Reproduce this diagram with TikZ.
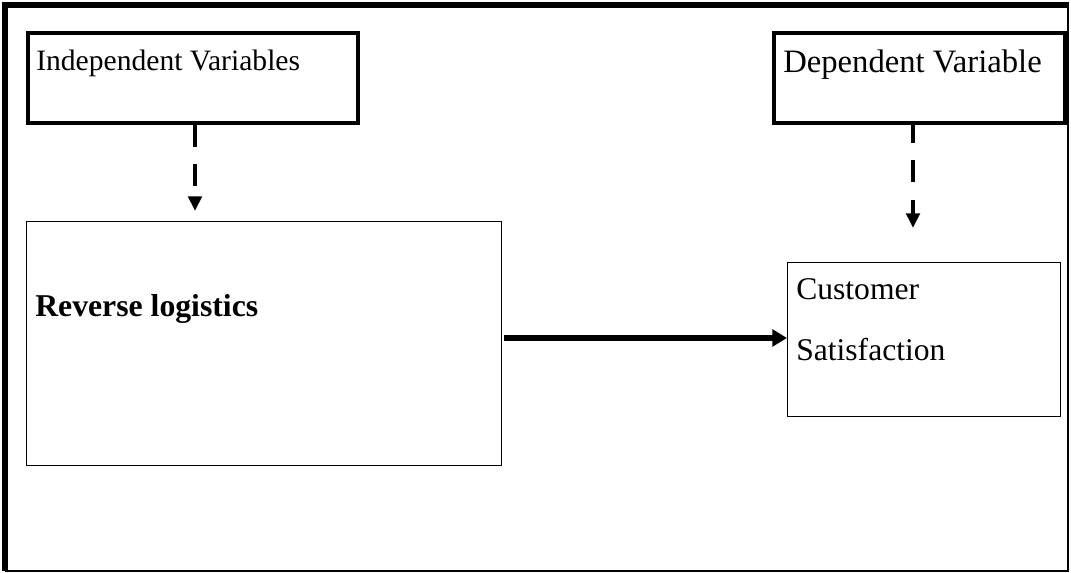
\documentclass[tikz,border=0pt]{standalone}
\usepackage{fontspec}
\setmainfont{Liberation Serif}
\usetikzlibrary{arrows.meta}
\begin{document}
\begin{tikzpicture}[x=0.75pt,y=-0.75pt,
  thickbox/.style={draw, line width=3pt, inner sep=0pt, anchor=north west},
  thinbox/.style={draw, line width=0.9pt, inner sep=0pt, anchor=north west},
  txt/.style={anchor=base west, inner sep=0pt},
  dasharrow/.style={line width=3pt, dash pattern=on 16.5pt off 13pt, -{Triangle[length=11pt,width=10pt]}},
  mainarrow/.style={line width=3.8pt, -{Triangle[length=11pt,width=12.5pt]}}]
\useasboundingbox (0,0) rectangle (1071,573);
% outer frame
\draw[line width=1.1pt] (1068,5) -- (1068,571) -- (5,571);
\draw[line width=3.8pt] (5,571) -- (5,5) -- (1068.5,5);
% boxes
\node[thickbox, minimum width=330*0.75pt, minimum height=90*0.75pt] (indep) at (26,31) {};
\node[thickbox, minimum width=291*0.75pt, minimum height=90*0.75pt] (dep) at (772,31) {};
\node[thinbox, minimum width=475*0.75pt, minimum height=244*0.75pt] (rev) at (26,221) {};
\node[thinbox, minimum width=273*0.75pt, minimum height=154*0.75pt] (cs) at (787,262) {};
% texts
\node[txt, font=\fontsize{22.2pt}{26pt}\selectfont] (tind) at (36,71) {Independent Variables};
\node[txt, font=\fontsize{24.5pt}{29pt}\selectfont] (tdep) at (783,73) {Dependent Variable};
\node[txt, font=\bfseries\fontsize{23.8pt}{28pt}\selectfont] (trev) at (35,317) {Reverse logistics};
\node[txt, font=\fontsize{23.7pt}{28pt}\selectfont] (tcus) at (796,300) {Customer};
\node[txt, font=\fontsize{23.7pt}{28pt}\selectfont] (tsat) at (796,361) {Satisfaction};
% arrows
\coordinate (a1s) at (195,125);
\coordinate (a1e) at (195,211);
\coordinate (a2s) at (913,121);
\coordinate (a2e) at (913,228);
\draw[dasharrow] (a1s) -- (a1e);
\draw[dasharrow] (a2s) -- (a2e);
\draw[mainarrow] ([xshift=2*0.75pt]rev.east |- 0,338) -- (cs.west |- 0,338);
\end{tikzpicture}
\end{document}
